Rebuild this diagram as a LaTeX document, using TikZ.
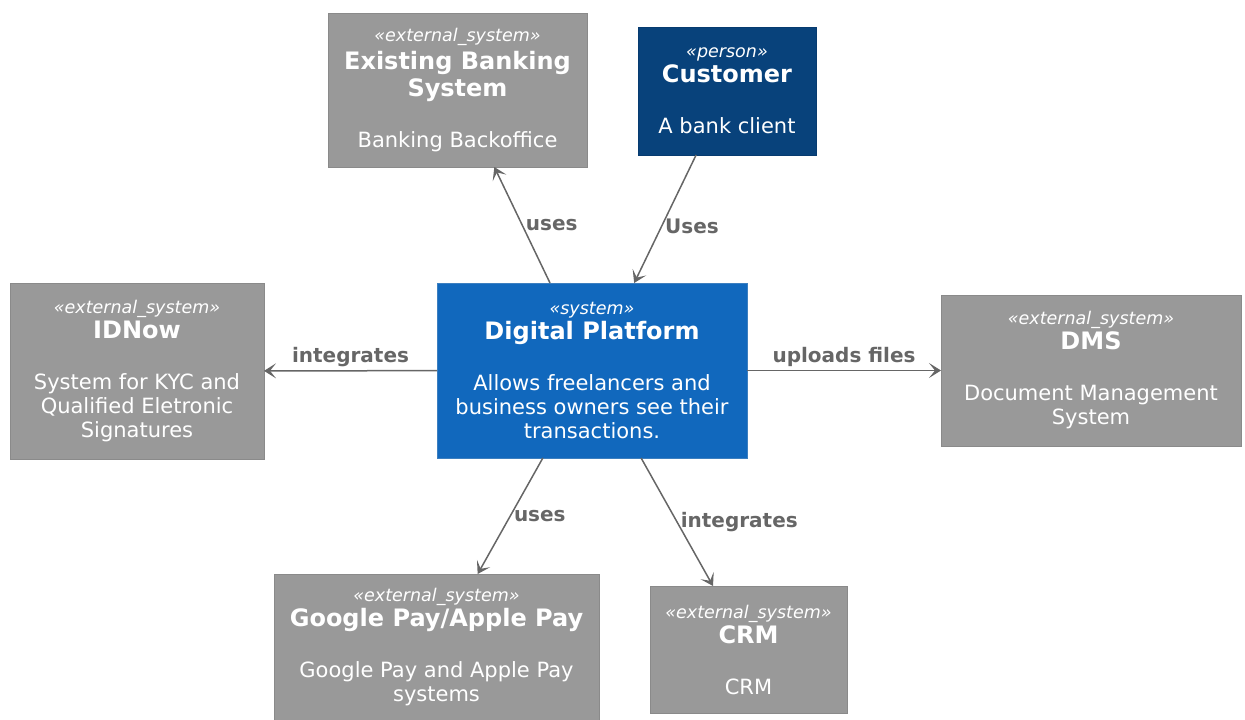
\documentclass[tikz,border=0pt]{standalone}
\usepackage{fontspec}
\setmainfont{DejaVu Sans}
\usetikzlibrary{arrows.meta}

\definecolor{extgray}{HTML}{999999}
\definecolor{extborder}{HTML}{8A8A8A}
\definecolor{persblue}{HTML}{08427B}
\definecolor{persborder}{HTML}{073B6F}
\definecolor{sysblue}{HTML}{1168BD}
\definecolor{sysborder}{HTML}{3C7FC0}
\definecolor{relgray}{HTML}{666666}

\newcommand{\stereo}[1]{{\itshape\fontsize{17.5}{24}\selectfont «#1»}}
\newcommand{\ttl}[1]{{\bfseries\fontsize{24}{24}\selectfont #1}}

\begin{document}
\begin{tikzpicture}[
    x=1pt, y=-1pt,
    >={Stealth[length=12pt,width=15pt,inset=6pt]},
    box/.style={rectangle, draw, line width=1pt, text=white, align=center, outer sep=0pt, inner sep=0pt, font=\fontsize{21}{24}\selectfont},
    ext/.style={box, fill=extgray, draw=extborder},
    person/.style={box, fill=persblue, draw=persborder},
    sys/.style={box, fill=sysblue, draw=sysborder},
    rel/.style={draw=relgray, line width=1.5pt, ->},
    lbl/.style={font=\bfseries\fontsize{20}{22}\selectfont, text=relgray, inner sep=3pt}
]
\useasboundingbox (0,0) rectangle (1245,720);

% Sistema central y actor
\node[sys, minimum width=310, minimum height=175] (dp) at (592,370.5)
  {\stereo{system}\\[1pt]\ttl{Digital Platform}\\[27pt]Allows freelancers and\\business owners see their\\transactions.};
\node[person, minimum width=178, minimum height=128] (cust) at (727,91)
  {\stereo{person}\\[1pt]\ttl{Customer}\\[27pt]A bank client};

% Sistemas externos
\node[ext, minimum width=259, minimum height=154] (bank) at (457.5,90)
  {\stereo{external\_system}\\[4pt]\ttl{Existing Banking}\\[3pt]\ttl{System}\\[27pt]Banking Backoffice};
\node[ext, minimum width=254, minimum height=176] (idnow) at (137,371)
  {\stereo{external\_system}\\[1pt]\ttl{IDNow}\\[27pt]System for KYC and\\Qualified Eletronic\\Signatures};
\node[ext, minimum width=300, minimum height=151] (dms) at (1091,370.5)
  {\stereo{external\_system}\\[1pt]\ttl{DMS}\\[27pt]Document Management\\System};
\node[ext, minimum width=325, minimum height=147] (gpay) at (436.5,647.5)
  {\stereo{external\_system}\\[1pt]\ttl{Google Pay/Apple Pay}\\[27pt]Google Pay and Apple Pay\\systems};
\node[ext, minimum width=197, minimum height=127] (crm) at (748.5,649.5)
  {\stereo{external\_system}\\[1pt]\ttl{CRM}\\[27pt]CRM};

% Relaciones (centro a centro)
\draw[rel] (cust) -- node[lbl, pos=0.56, right]{Uses} (dp);
\draw[rel] (dp) -- node[lbl, midway, right]{uses} (bank);
\draw[rel] (dp) -- node[lbl, midway, above]{integrates} (idnow);
\draw[rel] (dp) -- node[lbl, midway, above]{uploads files} (dms);
\draw[rel] (dp) -- node[lbl, midway, right]{uses} (gpay);
\draw[rel] (dp) -- node[lbl, midway, right]{integrates} (crm);
\end{tikzpicture}
\end{document}
